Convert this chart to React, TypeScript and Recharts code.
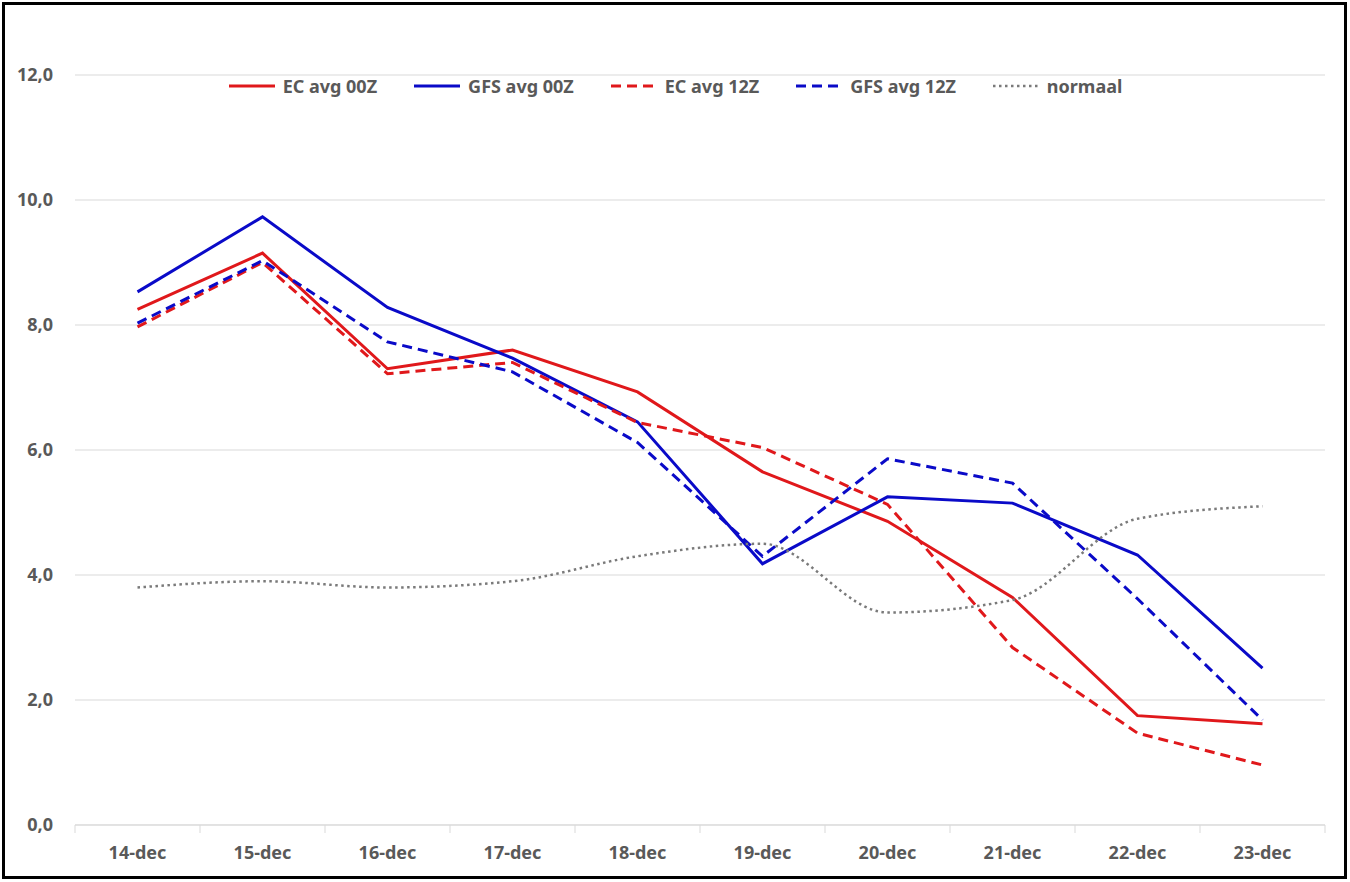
import React from 'react';
import { LineChart, Line, XAxis, YAxis, CartesianGrid, Legend } from 'recharts';

const days = ['14-dec', '15-dec', '16-dec', '17-dec', '18-dec', '19-dec', '20-dec', '21-dec', '22-dec', '23-dec'];

const ecAvg00 = [8.25, 9.15, 7.3, 7.6, 6.93, 5.65, 4.86, 3.64, 1.75, 1.62];
const gfsAvg00 = [8.53, 9.73, 8.28, 7.47, 6.45, 4.18, 5.25, 5.15, 4.32, 2.51];
const ecAvg12 = [7.97, 9.0, 7.22, 7.4, 6.44, 6.04, 5.13, 2.84, 1.47, 0.96];
const gfsAvg12 = [8.03, 9.03, 7.73, 7.25, 6.12, 4.3, 5.86, 5.47, 3.62, 1.68];
const normaal = [3.8, 3.9, 3.8, 3.9, 4.3, 4.5, 3.4, 3.6, 4.9, 5.1];

const yTicks = [0, 2, 4, 6, 8, 10, 12];

const data = days.map((day, i) => ({
  day,
  ec00: ecAvg00[i],
  gfs00: gfsAvg00[i],
  ec12: ecAvg12[i],
  gfs12: gfsAvg12[i],
  normaal: normaal[i],
}));

const W = 1350;
const H = 882;
const MARGIN = { top: 75, right: 25, bottom: 17, left: 15 };
const Y_AXIS_W = 60;
const X_AXIS_H = 40;
const PLOT_W = W - MARGIN.left - MARGIN.right - Y_AXIS_W;
const HALF_BAND = PLOT_W / days.length / 2;
const AXIS_Y = H - MARGIN.bottom - X_AXIS_H;

const FONT = '"Noto Sans", Arial, sans-serif';
const TEXT = '#595959';
const GRID = '#d9d9d9';
const RED = '#e0181b';
const BLUE = '#0a0ac8';

const series = [
  { key: 'ec00', name: 'EC avg 00Z', color: RED, dash: undefined, width: 3 },
  { key: 'gfs00', name: 'GFS avg 00Z', color: BLUE, dash: undefined, width: 3 },
  { key: 'ec12', name: 'EC avg 12Z', color: RED, dash: '10 6', width: 3 },
  { key: 'gfs12', name: 'GFS avg 12Z', color: BLUE, dash: '10 6', width: 3 },
  { key: 'normaal', name: 'normaal', color: '#7a7a7a', dash: '2.5 3.5', width: 2.5 },
];

// excel style ticks: marks between the categories, label in the middle
const DayTick = (props: any) => {
  const { x, y, payload, index } = props;
  return (
    <g>
      <line x1={x - HALF_BAND} y1={AXIS_Y} x2={x - HALF_BAND} y2={AXIS_Y + 8} stroke={GRID} />
      {index === days.length - 1 && (
        <line x1={x + HALF_BAND} y1={AXIS_Y} x2={x + HALF_BAND} y2={AXIS_Y + 8} stroke={GRID} />
      )}
      <text x={x} y={y} dy="0.71em" textAnchor="middle" fill={TEXT} fontSize={18} fontWeight={700} fontFamily={FONT}>
        {payload.value}
      </text>
    </g>
  );
};

const LegendRow = () => (
  <div style={{ display: 'flex', justifyContent: 'center', gap: 36, fontFamily: FONT, fontWeight: 700, fontSize: 18, color: TEXT }}>
    {series.map(s => (
      <div key={s.key} style={{ display: 'flex', alignItems: 'center', gap: 7 }}>
        <svg width={48} height={10}>
          <line x1={1} y1={5} x2={47} y2={5} stroke={s.color} strokeWidth={s.width} strokeDasharray={s.dash} />
        </svg>
        <span>{s.name}</span>
      </div>
    ))}
  </div>
);

export default function App() {
  return (
    <div style={{ position: 'relative', width: W, height: H, background: '#fff' }}>
      <style>{'body{margin:0}'}</style>
      <LineChart width={W} height={H} data={data} margin={MARGIN}>
        <CartesianGrid vertical={false} stroke={GRID} />
        <XAxis
          dataKey="day"
          height={X_AXIS_H}
          padding={{ left: HALF_BAND, right: HALF_BAND }}
          axisLine={{ stroke: GRID }}
          tickLine={false}
          tickSize={8}
          tickMargin={13}
          interval={0}
          tick={<DayTick />}
        />
        <YAxis
          width={Y_AXIS_W}
          domain={[0, 12]}
          ticks={yTicks}
          axisLine={false}
          tickLine={false}
          tickSize={6}
          tickMargin={16}
          tickFormatter={(v: number) => v.toFixed(1).replace('.', ',')}
          tick={{ fill: TEXT, fontSize: 18, fontWeight: 700, fontFamily: FONT }}
        />
        <Legend
          layout="horizontal"
          verticalAlign="middle"
          align="center"
          content={<LegendRow />}
          wrapperStyle={{ top: 74, left: 0, width: W }}
        />
        {series.map(s => (
          <Line
            key={s.key}
            type={s.key === 'normaal' ? 'monotone' : 'linear'}
            dataKey={s.key}
            name={s.name}
            stroke={s.color}
            strokeWidth={s.width}
            strokeDasharray={s.dash}
            dot={false}
            activeDot={false}
            isAnimationActive={false}
          />
        ))}
      </LineChart>
      <div
        style={{
          position: 'absolute',
          left: 2,
          top: 2,
          width: 1345,
          height: 877,
          border: '3px solid #000',
          boxSizing: 'border-box',
          pointerEvents: 'none',
        }}
      />
    </div>
  );
}
